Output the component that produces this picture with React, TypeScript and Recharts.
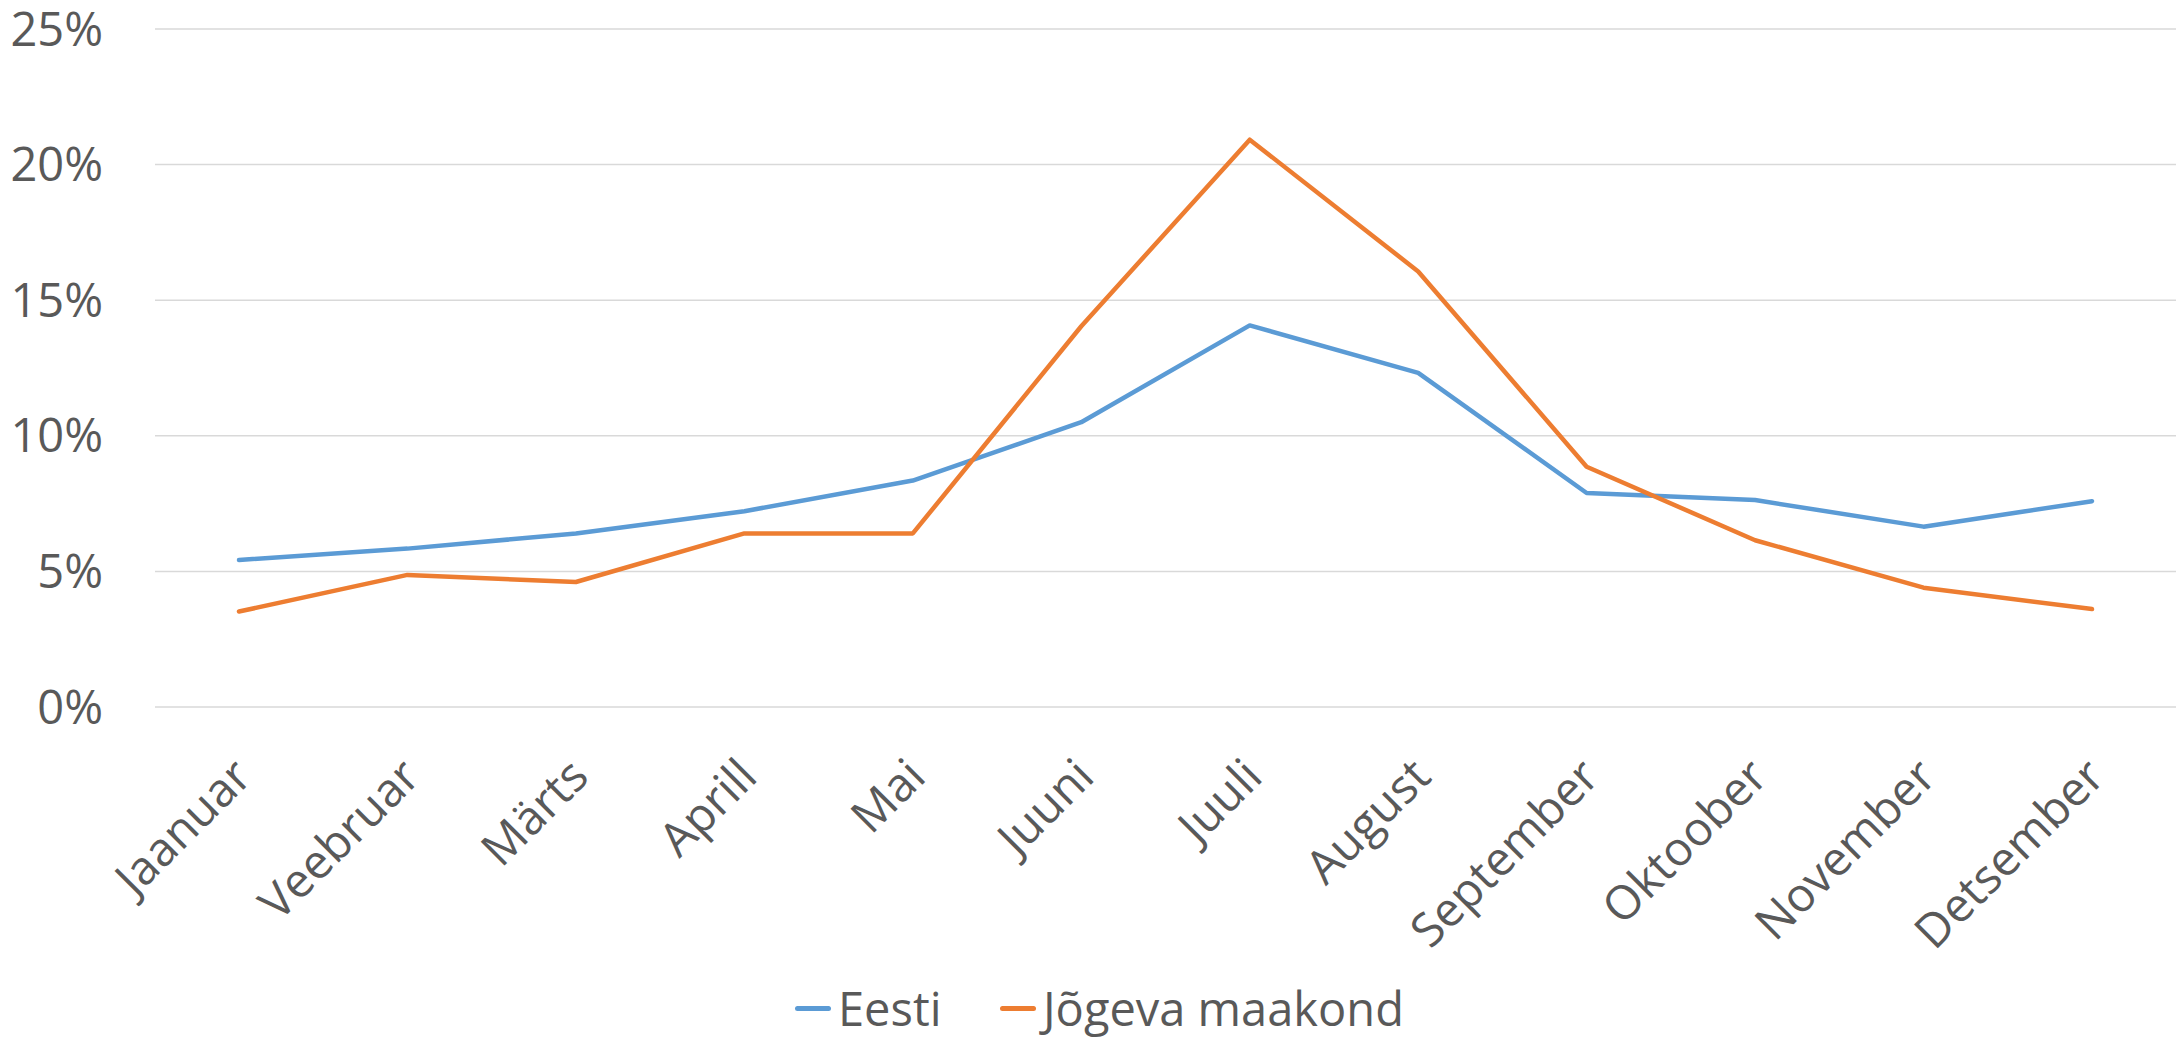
import React from 'react'
import { LineChart, Line, XAxis, YAxis, CartesianGrid, Legend } from 'recharts'

const months = ['Jaanuar', 'Veebruar', 'Märts', 'Aprill', 'Mai', 'Juuni', 'Juuli', 'August', 'September', 'Oktoober', 'November', 'Detsember']
const eesti = [5.42, 5.84, 6.4, 7.22, 8.35, 10.5, 14.07, 12.32, 7.89, 7.63, 6.65, 7.59]
const jogeva = [3.52, 4.87, 4.61, 6.4, 6.4, 14.04, 20.92, 16.06, 8.86, 6.15, 4.4, 3.61]
const yTicks = [0, 5, 10, 15, 20, 25]

const data = months.map((m, i) => ({ month: m, eesti: eesti[i], jogeva: jogeva[i] }))

const FONT = '"Open Sans", sans-serif'
const TEXT = '#595959'
const BLUE = '#5B9BD5'
const ORANGE = '#ED7D31'

// rotated month labels, anchored at end like Excel does it
const MonthTick = (props: any) => {
  const { x, y, payload } = props
  return (
    <g transform={`translate(${x + 15},${y + 72})`}>
      <text transform="rotate(-45)" textAnchor="end" fill={TEXT} fontSize={47} fontFamily={FONT}>
        {payload.value}
      </text>
    </g>
  )
}

const legendItems = [
  { name: 'Eesti', color: BLUE, left: 795 },
  { name: 'Jõgeva maakond', color: ORANGE, left: 1000 },
]

const ChartLegend = () => (
  <div style={{ position: 'relative', height: 60, width: 2179 }}>
    {legendItems.map(item => (
      <div
        key={item.name}
        style={{ position: 'absolute', left: item.left, top: 3, height: 48, display: 'flex', alignItems: 'center' }}
      >
        <div style={{ width: 36, height: 5, borderRadius: 3, background: item.color, marginRight: 7 }} />
        <span style={{ fontFamily: FONT, fontSize: 47, color: TEXT, lineHeight: '48px' }}>{item.name}</span>
      </div>
    ))}
  </div>
)

export default function App() {
  return (
    <div style={{ position: 'absolute', left: 0, top: 0, width: 2179, height: 1041, background: '#fff' }}>
      <LineChart width={2179} height={1041} data={data} margin={{ top: 29, right: 3, left: 0, bottom: 0 }}>
        <CartesianGrid vertical={false} stroke="#d9d9d9" strokeWidth={1.5} />
        <XAxis
          dataKey="month"
          axisLine={false}
          tickLine={false}
          tickSize={0}
          tickMargin={0}
          height={274}
          interval={0}
          padding={{ left: 84, right: 84 }}
          tick={<MonthTick />}
        />
        <YAxis
          width={155}
          domain={[0, 25]}
          ticks={yTicks}
          axisLine={false}
          tickLine={false}
          tickSize={0}
          tickMargin={52}
          tickFormatter={(v: number) => `${v}%`}
          tick={{ fill: TEXT, fontSize: 47, fontFamily: FONT }}
        />
        <Legend verticalAlign="bottom" height={60} content={<ChartLegend />} />
        <Line
          type="linear"
          dataKey="eesti"
          name="Eesti"
          stroke={BLUE}
          strokeWidth={4.5}
          strokeLinecap="round"
          strokeLinejoin="round"
          dot={false}
          activeDot={false}
          isAnimationActive={false}
        />
        <Line
          type="linear"
          dataKey="jogeva"
          name="Jõgeva maakond"
          stroke={ORANGE}
          strokeWidth={4.5}
          strokeLinecap="round"
          strokeLinejoin="round"
          dot={false}
          activeDot={false}
          isAnimationActive={false}
        />
      </LineChart>
    </div>
  )
}
